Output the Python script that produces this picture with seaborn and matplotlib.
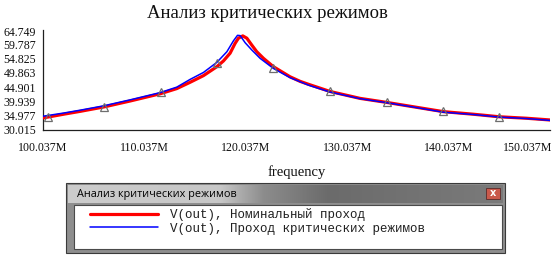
import numpy as np
import pandas as pd
import matplotlib
matplotlib.use("Agg")
import matplotlib.pyplot as plt
import matplotlib.transforms as mtransforms
import seaborn as sns
from matplotlib.patches import Rectangle

# ---------------- data (frequency in MHz, V(out)) ----------------
freq_nom = [100.037, 102.07, 103.71, 106.01, 108.64, 111.59, 113.23, 114.55, 115.86,
            117.18, 117.83, 118.49, 118.98, 119.31, 119.74, 120.14, 120.63, 121.12,
            121.78, 122.76, 124.40, 125.40, 126.21, 128.34, 131.30, 133.93, 136.88,
            139.50, 142.46, 145.07, 147.71, 150.037]
v_nom = [34.2, 35.5, 36.5, 38.0, 40.1, 42.6, 44.4, 46.6, 48.9,
         52.0, 54.0, 56.7, 60.1, 61.9, 62.7, 61.9, 59.5, 57.2,
         54.9, 52.0, 48.5, 46.9, 45.9, 43.4, 41.0, 39.6, 37.9,
         36.4, 35.5, 34.6, 34.1, 33.5]

freq_crit = [100.037, 102.07, 103.71, 106.01, 108.64, 111.59, 113.23, 114.55, 115.86,
             117.18, 118.17, 118.82, 119.22, 119.48, 119.98, 120.63, 121.45, 122.76,
             124.40, 126.21, 128.34, 131.30, 133.93, 136.88, 139.50, 142.46, 145.07,
             147.71, 150.037]
v_crit = [34.8, 35.9, 36.9, 38.4, 40.5, 43.0, 44.9, 47.6, 50.0,
          53.5, 57.2, 61.0, 62.9, 62.8, 60.3, 57.8, 54.9, 51.4,
          48.2, 45.6, 43.2, 40.9, 39.5, 37.8, 36.2, 35.4, 34.5,
          34.0, 33.35]

marker_freq = [100.56, 106.08, 111.69, 117.20, 122.72, 128.34, 133.96, 139.47, 144.99]
marker_v = [34.4, 37.9, 43.3, 53.4, 51.4, 43.6, 39.6, 36.6, 34.6]

x_ticks = [100.037, 110.037, 120.037, 130.037, 140.037, 150.037]
x_tick_labels = ["100.037M", "110.037M", "120.037M", "130.037M", "140.037M", "150.037M"]
y_ticks = [30.015, 34.977, 39.939, 44.901, 49.863, 54.825, 59.787, 64.749]
y_tick_labels = ["30.015", "34.977", "39.939", "44.901", "49.863", "54.825", "59.787", "64.749"]

title = "Анализ критических режимов"
x_label = "frequency"
series_labels = ["V(out), Номинальный проход", "V(out), Проход критических режимов"]

# ---------------- figure ----------------
sns.set_theme(style="white")
plt.rcParams["font.family"] = ["Liberation Serif", "DejaVu Serif"]

W, H = 553, 258
fig = plt.figure(figsize=(W / 100, H / 100), dpi=100)
fig.patch.set_facecolor("white")


def fx(px):
    return px / W


def fy(py):
    return 1 - py / H


# overlay axes in pixel coordinates (for the legend window)
ov = fig.add_axes([0, 0, 1, 1])
ov.set_axis_off()
ov.patch.set_visible(False)

# main plot axes
left, right, top, bottom = 43, 550, 30, 130
ax = fig.add_axes([fx(left), fy(bottom), (right - left) / W, (bottom - top) / H])
ax.set_facecolor("white")

df_nom = pd.DataFrame({"f": freq_nom, "v": v_nom})
df_crit = pd.DataFrame({"f": freq_crit, "v": v_crit})
df_mark = pd.DataFrame({"f": marker_freq, "v": marker_v})

sns.lineplot(data=df_nom, x="f", y="v", ax=ax, color="#ff0000", lw=2.3,
             label=series_labels[0], zorder=3)
sns.lineplot(data=df_crit, x="f", y="v", ax=ax, color="#0000ff", lw=1.1,
             label=series_labels[1], zorder=4)
ax.plot(df_mark["f"], df_mark["v"], ls="none", marker="^", ms=5.5,
        mfc="none", mec="#6e6e6e", mew=0.9, zorder=5)

handles, labels = ax.get_legend_handles_labels()
ax.get_legend().remove()

ax.set_xlim(x_ticks[0], x_ticks[-1])
ax.set_ylim(y_ticks[0], y_ticks[-1])
ax.set_xticks(x_ticks)
ax.set_xticklabels(x_tick_labels)
ax.set_yticks(y_ticks)
ax.set_yticklabels(y_tick_labels)
ax.tick_params(axis="both", direction="out", length=3.5, width=0.8, color="#202020",
               labelsize=8.6, labelcolor="#101010")
ax.tick_params(axis="x", pad=5)
ax.tick_params(axis="y", pad=1.5)
# keep the last x tick label inside the figure, as in the reference
last = ax.get_xticklabels()[-1]
last.set_horizontalalignment("right")
last.set_transform(last.get_transform() + mtransforms.ScaledTranslation(2 / 100, 0, fig.dpi_scale_trans))
# top y label nudged down slightly, as in the reference
top_lbl = ax.get_yticklabels()[-1]
top_lbl.set_transform(top_lbl.get_transform() + mtransforms.ScaledTranslation(0, -2 / 100, fig.dpi_scale_trans))
for s in ["top", "right"]:
    ax.spines[s].set_visible(False)
for s in ["left", "bottom"]:
    ax.spines[s].set_color("#202020")
    ax.spines[s].set_linewidth(0.9)
ax.grid(False)
ax.set_xlabel(x_label, fontsize=10.5, color="#101010", labelpad=8)
ax.set_ylabel("")

fig.text(fx(267), fy(14), title, ha="center", va="center", fontsize=13.5, color="#101010")

# ---------------- legend window ----------------
ov.set_xlim(0, W)
ov.set_ylim(H, 0)
# outer frame
ov.add_patch(Rectangle((66, 183), 439, 70, facecolor="#8e8e8e", edgecolor="#3a3a3a", lw=0.8))
# title bar gradient
xs = np.linspace(0, 1, 300)
stops_x = [0.0, 0.35, 0.45, 0.6, 1.0]
stops_c = [[0.80, 0.80, 0.80], [0.78, 0.78, 0.78], [0.55, 0.55, 0.55],
           [0.42, 0.42, 0.42], [0.48, 0.48, 0.48]]
grad = np.stack([np.interp(xs, stops_x, [c[i] for c in stops_c]) for i in range(3)], axis=-1)
grad = grad[np.newaxis, :, :]
ov.imshow(grad, extent=[68, 503, 203, 185], aspect="auto", zorder=1)
ov.set_xlim(0, W)
ov.set_ylim(H, 0)
ov.text(77, 194, title, ha="left", va="center", fontsize=7.8, color="#000000",
        family=["Open Sans", "DejaVu Sans"], zorder=3)
# close button
ov.add_patch(Rectangle((486, 188), 14, 11, facecolor="#c9594b", edgecolor="#5a2a2a", lw=0.6, zorder=3))
ov.text(493, 193.5, "x", ha="center", va="center", fontsize=7, color="white",
        family="DejaVu Sans", weight="bold", zorder=4)
# client area
ov.add_patch(Rectangle((74, 205), 428, 44, facecolor="white", edgecolor="#4a4a4a", lw=0.8, zorder=2))

fig.legend(handles, labels, loc="upper left", bbox_to_anchor=(fx(90), fy(208)),
           frameon=False, borderpad=0, borderaxespad=0, handlelength=5.4,
           handletextpad=1.0, labelspacing=0.15,
           prop={"family": "Liberation Mono", "size": 9}, labelcolor="#202020")

fig.savefig("out.png", dpi=100, facecolor="white")
